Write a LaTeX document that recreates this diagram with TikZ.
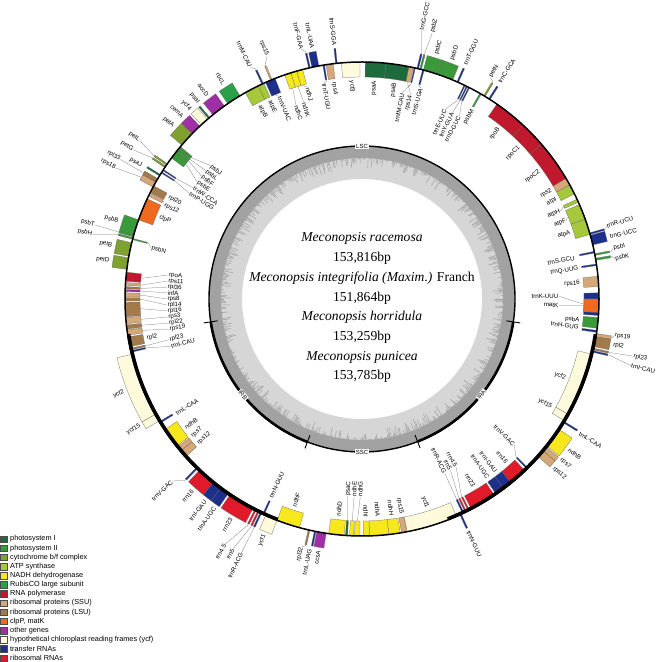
\documentclass[tikz,border=0pt]{standalone}
\usepackage{fontspec}
\setmainfont{Liberation Serif}
\setsansfont{Liberation Sans}

\definecolor{psI}{HTML}{1D6B3C}
\definecolor{psII}{HTML}{3A9A3A}
\definecolor{cytb}{HTML}{80A030}
\definecolor{atp}{HTML}{A5C93A}
\definecolor{ndh}{HTML}{F7E81E}
\definecolor{rbc}{HTML}{2BA04A}
\definecolor{rpo}{HTML}{C0182D}
\definecolor{ssu}{HTML}{D6A777}
\definecolor{lsu}{HTML}{A37A4A}
\definecolor{clp}{HTML}{EF6A1F}
\definecolor{oth}{HTML}{A02EA5}
\definecolor{ycf}{HTML}{FFFADC}
\definecolor{trna}{HTML}{1C2F8A}
\definecolor{rrna}{HTML}{E01A2A}
\definecolor{gclight}{HTML}{D6D6D6}
\definecolor{gcdark}{HTML}{A2A2A2}

\tikzset{
  glabel/.style={font=\sffamily\fontsize{6.2}{7}\selectfont, inner sep=0.4pt},
  leader/.style={draw=black!55, line width=0.25pt},
  legbox/.style={draw=black!70, line width=0.3pt, minimum width=7.5pt, minimum height=6.5pt, inner sep=0pt},
  legtext/.style={font=\sffamily\fontsize{7.3}{8}\selectfont, anchor=west, inner sep=0pt},
  region/.style={font=\sffamily\fontsize{6}{7}\selectfont, fill=white, inner sep=0.8pt}
}

\newcounter{gn}
% gene: start, end, colour, side (1 out, -1 in), label, label angle, label distance
\newcommand{\gene}[7]{%
  \stepcounter{gn}%
  \pgfmathsetmacro\gm{(#1+#2)/2}%
  \pgfmathsetmacro\gr{237+(#4)*15}%
  \pgfmathsetmacro\gt{237+(#4)*16.5}%
  \pgfmathsetmacro\gl{237+(#4)*(#7)}%
  \pgfmathsetmacro\grot{ifthenelse(cos(#6)>=0, #6, #6+180)}%
  \pgfmathtruncatemacro\gq{(cos(#6)>=0)*2+((#4)>0)}%
  \ifcase\gq\relax\def\ganc{west}\or\def\ganc{east}\or\def\ganc{east}\else\def\ganc{west}\fi
  \filldraw[fill=#3, draw=black!60, line width=0.25pt] (#1:237) arc[start angle=#1, end angle=#2, radius=237]
    -- (#2:\gr) arc[start angle=#2, end angle=#1, radius=\gr] -- cycle;
  \node[glabel, rotate=\grot, anchor=\ganc] (g\thegn) at (#6:\gl) {#5};
  \pgfmathtruncatemacro\glead{or(abs(#6-\gm)>0.5, #7>21)}%
  \ifnum\glead=1
    \coordinate (e\thegn) at (\gm:\gt);
    \draw[leader] (\gm:\gr) -- (e\thegn) -- (g\thegn.\ganc);
  \fi
}

\begin{document}
\begin{tikzpicture}[x=1pt,y=1pt]
  \useasboundingbox (0,0) rectangle (658,662);

  \begin{scope}[shift={(362,363)}]
    % GC content
    \fill[gclight, even odd rule] (0,0) circle (153) (0,0) circle (120);
    \fill[gcdark, even odd rule] (0,0) circle (153) (0,0) circle (141);
    \pgfmathsetseed{7}
    \foreach \ang in {0,0.5,...,359.5} {
      \pgfmathsetmacro\sp{141.5-11*rnd^2}
      \draw[gcdark, line width=0.55pt] (\ang:141.5) -- (\ang:\sp);
    }
    \draw[line width=1.4pt] (0,0) circle (153);
    \draw[line width=2.6pt] (-68.7:153) arc[start angle=-68.7, end angle=-8.6, radius=153];
    \draw[line width=2.6pt] (188.6:153) arc[start angle=188.6, end angle=249.1, radius=153];
    \foreach \ang in {-8.6,-68.7,188.6,249.1}
      \draw[line width=0.9pt] (\ang:146) -- (\ang:160);
    \node[region] (lsc) at (90:153) {LSC};
    \node[region] (ssc) at (-90:153) {SSC};
    \node[region, rotate=51.35] (ira) at (-38.65:153) {IRA};
    \node[region, rotate=-51.15] (irb) at (218.85:153) {IRB};

    % single copy genes
    \foreach \p/\q/\col/\sd/\lab/\la/\dist in {
      -8.1/-7.6/trna/-1/trnH-GUG/-7.4/18, -7.1/-4.5/psII/-1/psbA/-5.6/18,
      -4.0/1.5/trna/-1/trnK-UUU/0.8/40, -3.3/0.0/clp/-1/matK/-1.8/40,
      3.0/5.5/ssu/-1/rps16/4.2/18, 8.1/8.5/trna/-1/trnQ-UUG/8.0/18,
      11.2/11.6/trna/-1/trnS-GCU/10.9/20, 9.4/9.9/psII/1/psbK/9.1/19,
      10.6/11.0/psII/1/psbI/11.4/19, 13.2/15.6/trna/1/trnG-UCC/14.1/18,
      15.8/16.2/trna/1/trnR-UCU/16.6/18, 15.8/19.7/atp/-1/atpA/17.7/18,
      19.7/23.5/atp/-1/atpF/21.0/18, 24.1/24.9/atp/-1/atpH/23.9/20,
      26.3/28.8/atp/-1/atpI/27.2/18, 28.8/30.6/ssu/-1/rps2/29.9/18,
      30.6/40.8/rpo/-1/rpoC2/35.7/18, 40.8/47.2/rpo/-1/rpoC1/44.0/18,
      47.2/55.3/rpo/-1/rpoB/51.2/18, 57.3/57.7/trna/1/trnC-GCA/57.6/19,
      58.7/59.1/cytb/1/petN/59.9/19, 59.8/60.2/psII/-1/psbM/59.6/18,
      63.0/63.3/trna/-1/trnD-GUC/61.9/30, 63.6/63.9/trna/-1/trnY-GUA/64.1/30,
      64.2/64.5/trna/-1/trnE-UUC/66.3/30, 66.0/66.4/trna/1/trnT-GGU/66.2/19,
      67.5/71.3/psII/1/psbD/69.4/18, 71.3/75.0/psII/1/psbC/73.1/18,
      74.8/75.2/trna/-1/trnS-UGA/74.4/18, 75.5/75.9/psII/1/psbZ/75.2/38,
      76.2/76.6/trna/1/trnG-GCC/77.5/38, 77.0/77.3/trna/-1/trnfM-CAU/78.9/27,
      77.5/78.6/ssu/-1/rps14/76.6/27, 78.6/84.2/psI/-1/psaB/81.4/18,
      84.2/89.2/psI/-1/psaA/86.7/18, 90.5/95.0/ycf/-1/ycf3/92.7/18,
      96.0/96.4/trna/1/trnS-GGA/96.2/18, 97.0/98.7/ssu/-1/rps4/97.4/18,
      99.1/99.5/trna/-1/trnT-UGU/100.0/18, 100.5/102.2/trna/1/trnL-UAA/101.2/18,
      102.6/103.0/trna/1/trnF-GAA/103.6/20, 104.5/106.0/ndh/-1/ndhJ/104.4/18,
      106.0/107.5/ndh/-1/ndhK/106.5/32, 107.5/109.0/ndh/-1/ndhC/108.8/32,
      111.5/114.0/trna/-1/trnV-UAC/112.2/18, 112.3/112.7/ssu/1/rps15/111.3/24,
      114.6/115.0/trna/1/trnM-CAU/115.7/20, 114.5/116.0/atp/-1/atpE/115.0/18,
      116.0/119.5/atp/-1/atpB/117.9/18, 121.0/124.5/rbc/1/rbcL/122.7/18,
      125.5/129.0/oth/1/accD/127.2/18, 130.0/130.4/psI/1/psaI/129.8/18,
      130.7/132.7/ycf/1/ycf4/132.2/18, 133.2/135.8/oth/1/cemA/134.6/18,
      135.8/139.5/cytb/1/petA/137.6/18, 140.0/140.6/psII/-1/psbJ/138.6/35,
      140.6/141.2/psII/-1/psbL/140.6/35, 141.2/141.8/psII/-1/psbF/142.6/35,
      141.8/143.5/psII/-1/psbE/144.6/35, 145.2/145.6/cytb/1/petL/144.5/36,
      145.9/146.3/cytb/1/petG/146.9/36, 146.9/147.2/trna/-1/trnW-CCA/146.6/35,
      147.6/147.9/trna/-1/trnP-UGG/148.6/35, 148.3/148.7/psI/1/psaJ/148.9/20,
      149.5/150.5/lsu/1/rpl33/150.0/42, 150.5/151.8/ssu/1/rps18/152.0/42,
      151.5/153.3/lsu/-1/rpl20/152.2/18, 153.5/154.3/ssu/-1/rps12/154.6/18,
      155.0/160.5/clp/-1/clpP/157.9/18, 160.5/164.4/psII/1/psbB/162.4/18,
      164.4/164.8/psII/1/psbT/164.5/40, 165.0/165.4/psII/1/psbH/166.5/40,
      165.2/165.5/psII/-1/psbN/166.4/20, 166.3/169.6/cytb/1/petB/167.9/18,
      170.0/172.8/cytb/1/petD/171.4/18, 173.5/175.7/rpo/-1/rpoA/172.9/42,
      176.0/176.7/ssu/-1/rps11/174.7/42, 177.0/177.5/lsu/-1/rpl36/176.5/42,
      177.7/178.2/oth/-1/infA/178.2/42, 178.5/179.5/ssu/-1/rps8/180.0/42,
      179.7/180.5/lsu/-1/rpl14/181.8/42, 180.8/184.3/lsu/-1/rpl16/183.5/42,
      184.5/186.0/ssu/-1/rps3/185.3/42, 186.3/187.3/lsu/-1/rpl22/187.1/42,
      187.5/188.8/ssu/-1/rps19/188.9/42, -8.4/-9.2/ssu/1/rps19/-8.2/18,
      -79.0/-66.5/ycf/-1/ycf1/-72.7/18, -80.4/-79.1/ssu/-1/rps15/-79.6/18,
      -83.5/-80.7/ndh/-1/ndhH/-82.2/18, -88.2/-83.5/ndh/-1/ndhA/-85.8/18,
      -89.7/-88.2/ndh/-1/ndhI/-89.0/18, -91.8/-90.5/ndh/-1/ndhG/-90.5/39,
      -93.0/-92.0/ndh/-1/ndhE/-92.3/39, -94.0/-93.5/psI/-1/psaC/-94.1/39,
      -98.1/-94.3/ndh/-1/ndhD/-96.2/18, -101.0/-98.7/oth/1/ccsA/-99.8/18,
      -101.6/-101.2/trna/1/trnL-UAG/-101.8/18, -103.1/-102.7/lsu/1/rpl32/-103.7/18,
      -111.0/-105.3/ndh/-1/ndhF/-108.1/18, -114.0/-111.0/ycf/1/ycf1/-112.5/18}
      {\gene{\p}{\q}{\col}{\sd}{\lab}{\la}{\dist}}

    % inverted repeats, IRA and its mirror IRB
    \foreach \p/\q/\col/\sd/\lab/\la/\dist in {
      -9.2/-11.6/lsu/1/rpl2/-10.3/18, -12.0/-12.4/lsu/1/rpl23/-11.9/40,
      -12.6/-13.0/trna/1/trnI-CAU/-13.9/40, -29.2/-13.5/ycf/-1/ycf2/-21.3/18,
      -31.0/-29.2/ycf/-1/ycf15/-29.7/18, -31.6/-31.2/trna/1/trnL-CAA/-31.7/18,
      -38.5/-33.5/ndh/1/ndhB/-36.0/18, -40.0/-38.8/ssu/1/rps7/-38.9/18,
      -41.8/-40.0/ssu/1/rps12/-41.4/18, -45.9/-45.5/trna/-1/trnV-GAC/-43.8/26,
      -51.0/-46.5/rrna/-1/rrn16/-48.5/18, -53.2/-51.0/trna/-1/trnI-GAU/-52.2/18,
      -55.5/-53.2/trna/-1/trnA-UGC/-54.8/18, -62.5/-56.0/rrna/-1/rrn23/-59.2/18,
      -63.4/-63.0/rrna/-1/rrn4.5/-60.8/44, -64.2/-63.8/rrna/-1/rrn5/-62.7/44,
      -64.9/-64.5/trna/-1/trnR-ACG/-64.6/44, -65.6/-65.2/trna/1/trnN-GUU/-65.4/18}
    {
      \gene{\p}{\q}{\col}{\sd}{\lab}{\la}{\dist}
      \pgfmathsetmacro\mp{180-(\p)}
      \pgfmathsetmacro\mq{180-(\q)}
      \pgfmathsetmacro\ml{180-(\la)}
      \pgfmathtruncatemacro\ms{0-(\sd)}
      \gene{\mp}{\mq}{\col}{\ms}{\lab}{\ml}{\dist}
    }

    % genome ring
    \draw[line width=1.5pt] (0,0) circle (237);
    \draw[line width=3.5pt] (-68.7:236) arc[start angle=-68.7, end angle=-8.6, radius=236];
    \draw[line width=3.5pt] (188.6:236) arc[start angle=188.6, end angle=249.1, radius=236];
  \end{scope}

  \node[align=center, inner sep=0pt, font=\fontsize{13.6}{19.7}\selectfont] (title) at (362,354.2)
    {\textit{Meconopsis racemosa}\\153,816bp\\\textit{Meconopsis integrifolia (Maxim.)} Franch\\151,864bp\\
     \textit{Meconopsis horridula}\\153,259bp\\\textit{Meconopsis punicea}\\153,785bp};

  % legend
  \foreach \col/\txt [count=\k] in {psI/photosystem I, psII/photosystem II,
      cytb/{cytochrome b/f complex}, atp/ATP synthase, ndh/NADH dehydrogenase,
      rbc/RubisCO large subunit, rpo/RNA polymerase, ssu/ribosomal proteins (SSU),
      lsu/ribosomal proteins (LSU), clp/{clpP, matK}, oth/other genes,
      ycf/hypothetical chloroplast reading frames (ycf), trna/transfer RNAs,
      rrna/ribosomal RNAs} {
    \node[legbox, fill=\col] (k\k) at (3.8,123-9.15*\k+9.15) {};
    \node[legtext] (t\k) at (10,123-9.15*\k+9.15) {\txt};
  }
\end{tikzpicture}
\end{document}
